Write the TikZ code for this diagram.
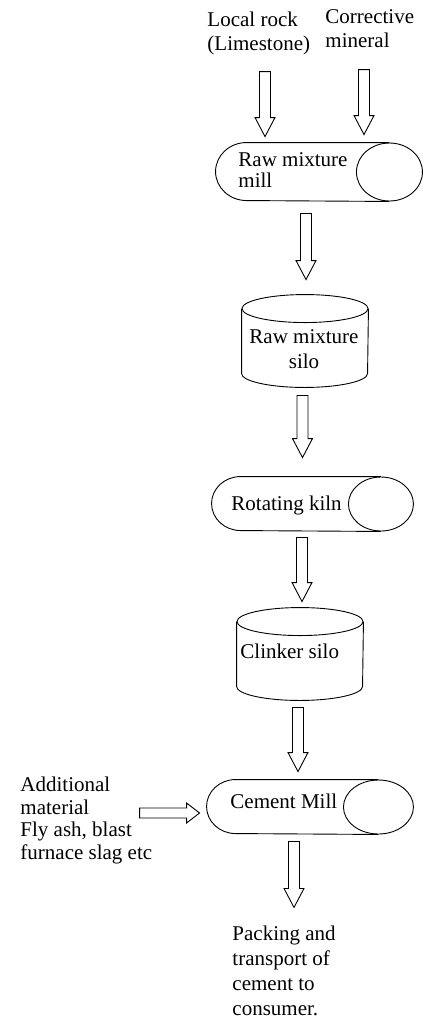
\documentclass[tikz,border=0pt]{standalone}
\usepackage{fontspec}
\setmainfont{Liberation Serif}
\usetikzlibrary{calc}

\tikzset{
  every picture/.style={line width=0.9pt},
  txt/.style={inner sep=0pt, anchor=base west, align=left,
    font=\fontsize{21}{23.5}\selectfont},
  shapebox/.style={draw=none, inner sep=0pt, rectangle},
  downarrow/.style={to path={
    let \p1=(\tikztostart), \p2=(\tikztotarget) in
    (\x1-5.5pt,\y1) -- (\x1-5.5pt,\y2+19pt) -- (\x1-10pt,\y2+19pt) -- (\x1,\y2)
    -- (\x1+10pt,\y2+19pt) -- (\x1+5.5pt,\y2+19pt) -- (\x1+5.5pt,\y1) -- cycle}},
  rightarrow/.style={to path={
    let \p1=(\tikztostart), \p2=(\tikztotarget) in
    (\x1,\y1+5pt) -- (\x2-13pt,\y1+5pt) -- (\x2-13pt,\y1+10pt) -- (\x2,\y1)
    -- (\x2-13pt,\y1-10pt) -- (\x2-13pt,\y1-5pt) -- (\x1,\y1-5pt) -- cycle}},
}

% mill: stadium with a drum ellipse at its right end
% #1 node, #2 drum x radius, #3 half height
\newcommand\drawmill[3]{%
  \draw ($(#1.east)+(-#2,0)$) ellipse [x radius=#2pt, y radius=#3pt];
  \draw ($(#1.north east)+(-#2,0)$) -- ($(#1.north west)+(#3+2,0)$)
    arc[start angle=90, end angle=270, x radius=#3pt+2pt, y radius=#3pt]
    -- ($(#1.south east)+(-#2,0)$);
}
% silo: upright cylinder, #1 node, #2 half width, #3 cap y radius
\newcommand\drawsilo[3]{%
  \draw ($(#1.north)+(0,#3)$) ellipse [x radius=#2pt, y radius=#3pt];
  \draw ($(#1.north west)+(0,#3)$) -- ($(#1.south west)+(0,-#3)$)
    arc[start angle=180, end angle=360, x radius=#2pt, y radius=#3pt]
    -- ($(#1.north east)+(0,#3)$);
}

\begin{document}
\begin{tikzpicture}[x=1pt, y=-1pt]
\useasboundingbox (0,0) rectangle (425,1018);

% inputs (multi-line nodes sit on the baseline of their last line)
\node[txt] (rock) at (207,50) {Local rock\\(Limestone)};
\node[txt] (corr) at (325,47) {Corrective\\mineral};

% raw mixture mill
\node[shapebox, minimum width=206pt, minimum height=58pt] (mill1) at (319,172) {};
\drawmill{mill1}{33}{29}
\node[txt, font=\fontsize{21}{20.5}\selectfont] (mill1t) at (238,187) {Raw mixture\\mill};

% raw mixture silo
\node[shapebox, minimum width=126pt, minimum height=92pt] (silo1) at (305,341) {};
\drawsilo{silo1}{63}{14}
\node[txt, anchor=base, align=center, font=\fontsize{21}{25}\selectfont] (silo1t) at (304,368) {Raw mixture\\silo};

% rotating kiln
\node[shapebox, minimum width=201pt, minimum height=54pt] (kiln) at (312.5,504) {};
\drawmill{kiln}{32.5}{27}
\node[txt] (kilnt) at (231,510) {Rotating kiln};

% clinker silo
\node[shapebox, minimum width=126pt, minimum height=92pt] (silo2) at (300,654) {};
\drawsilo{silo2}{63}{14}
\node[txt] (silo2t) at (240,658) {Clinker silo};

% cement mill
\node[shapebox, minimum width=206pt, minimum height=54pt] (cmill) at (310,807) {};
\drawmill{cmill}{35}{27}
\node[txt] (cmillt) at (230,808) {Cement Mill};

% additives
\node[txt, font=\fontsize{21}{22.5}\selectfont] (addl) at (20,859)
  {Additional\\material\\Fly ash, blast\\furnace slag etc};

% product
\node[txt, font=\fontsize{21}{24.7}\selectfont] (pack) at (232,1015)
  {Packing and\\transport of\\cement to\\consumer.};

% flow arrows
\draw[downarrow] ($(mill1.north)+(-54,-71)$) to ($(mill1.north)+(-54,-6)$);
\draw[downarrow] ($(mill1.north)+(45,-73)$) to ($(mill1.north)+(45,-8)$);
\draw[downarrow] ($(mill1.south)+(-13,12)$) to ($(silo1.north)+(0,-15)$);
\draw[downarrow] ($(silo1.south)+(-2.5,8)$) to ($(kiln.north)+(0,-19)$);
\draw[downarrow] ($(kiln.south)+(-10.5,6)$) to ($(silo2.north)+(0,-6)$);
\draw[downarrow] ($(silo2.south)+(-2,7)$) to ($(cmill.north)+(0,-8)$);
\draw[rightarrow] ($(cmill.west)+(-67,6)$) to ($(cmill.west)+(-7,6)$);
\draw[downarrow] ($(cmill.south)+(-16,7)$) to ($(cmill.south)+(-16,73)$);
\end{tikzpicture}
\end{document}
